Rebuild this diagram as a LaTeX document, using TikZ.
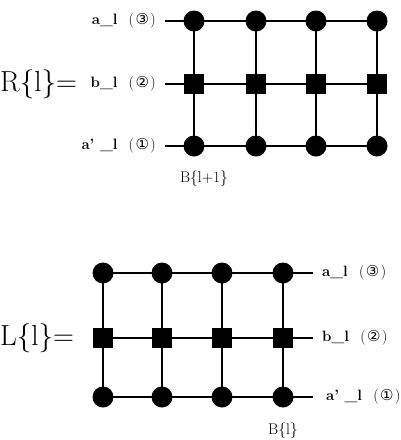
\documentclass[tikz,border=0pt]{standalone}
\usepackage{fontspec}
\newfontfamily\circfont{DejaVu Sans}
\begin{document}
\begin{tikzpicture}[x=1pt,y=-1pt,
  grid/.style={line width=1.6pt,black},
  dot/.style={circle,fill=black,inner sep=0pt,minimum size=21pt},
  sq/.style={rectangle,fill=black,inner sep=0pt,minimum size=20pt},
  lab/.style={font=\fontsize{15}{17}\selectfont\bfseries,inner sep=0pt},
  big/.style={font=\fontsize{29}{32}\selectfont,inner sep=0pt},
  bl/.style={font=\fontsize{15.5}{17}\selectfont,inner sep=0pt}]
\useasboundingbox (0,0) rectangle (401,440);
\newcommand{\circd}[1]{{\mdseries(\kern1.5pt{\circfont\fontsize{15}{17}\selectfont #1}\kern1.5pt)}}
% ---------- top grid R{l}
\foreach \c/\x in {1/194,2/256,3/316,4/377}{
  \coordinate (ta\c) at (\x,21);
  \coordinate (tb\c) at (\x,84);
  \coordinate (tc\c) at (\x,146);
}
\coordinate (tla) at (165,21);
\coordinate (tlb) at (165,84);
\coordinate (tlc) at (165,146);
\draw[grid] (tla) -- (ta1) -- (ta2) -- (ta3) -- (ta4);
\draw[grid] (tlb) -- (tb1) -- (tb2) -- (tb3) -- (tb4);
\draw[grid] (tlc) -- (tc1) -- (tc2) -- (tc3) -- (tc4);
\foreach \c in {1,2,3,4}{
  \draw[grid] (ta\c) -- (tb\c) -- (tc\c);
  \node[dot] (nta\c) at (ta\c) {};
  \node[sq]  (ntb\c) at (tb\c) {};
  \node[dot] (ntc\c) at (tc\c) {};
}
\node[lab,anchor=east] (la) at (156,21) {a\_l\ \ \circd{③}};
\node[lab,anchor=east] (lb) at (156,84) {b\_l\ \ \circd{②}};
\node[lab,anchor=east] (lc) at (156,146) {a’ \_l\ \ \circd{①}};
\node[big,anchor=west] (R) at (0,84) {R\{l\}=};
\node[bl] (B1) at (204,179) {B\{l+1\}};
% ---------- bottom grid L{l}
\foreach \c/\x in {1/103,2/162,3/222,4/283}{
  \coordinate (ba\c) at (\x,273);
  \coordinate (bb\c) at (\x,338);
  \coordinate (bc\c) at (\x,397);
}
\coordinate (bra) at (313,273);
\coordinate (brb) at (313,338);
\coordinate (brc) at (313,397);
\draw[grid] (ba1) -- (ba2) -- (ba3) -- (ba4) -- (bra);
\draw[grid] (bb1) -- (bb2) -- (bb3) -- (bb4) -- (brb);
\draw[grid] (bc1) -- (bc2) -- (bc3) -- (bc4) -- (brc);
\foreach \c in {1,2,3,4}{
  \draw[grid] (ba\c) -- (bb\c) -- (bc\c);
  \node[dot] (nba\c) at (ba\c) {};
  \node[sq]  (nbb\c) at (bb\c) {};
  \node[dot] (nbc\c) at (bc\c) {};
}
\node[lab,anchor=west] (ra) at (322,273) {a\_l\ \ \circd{③}};
\node[lab,anchor=west] (rb) at (322,338) {b\_l\ \ \circd{②}};
\node[lab,anchor=west] (rc) at (326,397) {a’ \_l\ \ \circd{①}};
\node[big,anchor=west] (L) at (0,338) {L\{l\}=};
\node[bl] (B2) at (283,431) {B\{l\}};
\end{tikzpicture}
\end{document}
